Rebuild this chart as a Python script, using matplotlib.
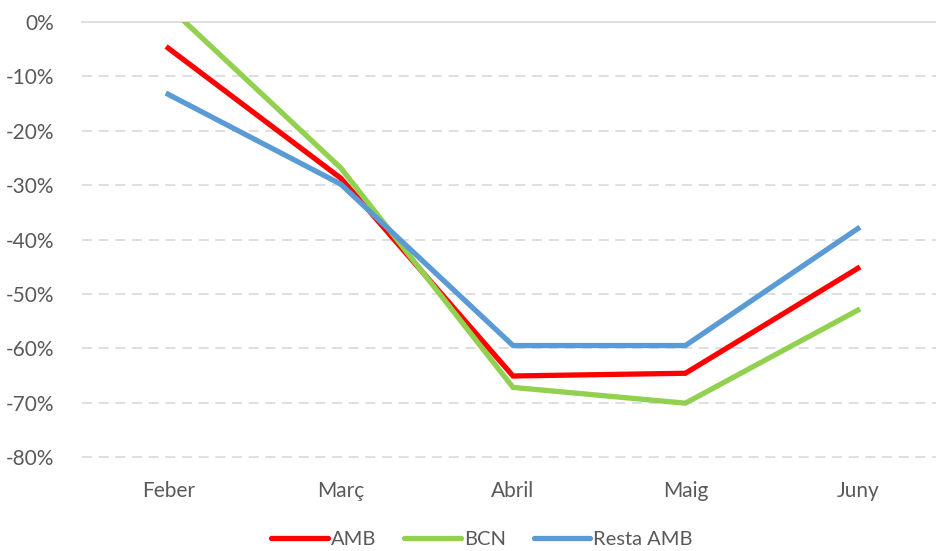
import matplotlib
matplotlib.use("Agg")
import matplotlib.pyplot as plt
from matplotlib.ticker import FuncFormatter

months = ["Feber", "Març", "Abril", "Maig", "Juny"]
amb = [-4.8, -28.7, -65.1, -64.6, -45.3]
bcn = [2.9, -26.8, -67.2, -70.1, -53.0]
resta = [-13.3, -29.8, -59.5, -59.5, -38.0]
yticks = [0, -10, -20, -30, -40, -50, -60, -70, -80]

plt.rcParams['font.family'] = ['Lato', 'DejaVu Sans']
gray = '#595959'

fig = plt.figure(figsize=(9.36, 5.51), dpi=100)
ax = fig.add_axes([82/936, 1-457/551, (944-82)/936, (457-22)/551])

x = list(range(len(months)))
lw = 3.8
ax.plot(x, amb, color='#FF0000', lw=lw, label='AMB', solid_joinstyle='miter', zorder=3)
ax.plot(x, bcn, color='#92D050', lw=lw, label='BCN', solid_joinstyle='miter', zorder=3)
ax.plot(x, resta, color='#5B9BD5', lw=lw, label='Resta AMB', solid_joinstyle='miter', zorder=3)

ax.set_xlim(-0.5, 4.5)
ax.set_ylim(-80, 0)
ax.set_yticks(yticks)
ax.yaxis.set_major_formatter(FuncFormatter(lambda v, p: f"{int(round(v))}%"))
ax.set_xticks(x)
ax.set_xticklabels(months)
for s in ax.spines.values():
    s.set_visible(False)
ax.tick_params(length=0, colors=gray, labelsize=15)
ax.tick_params(axis='y', pad=20)
ax.tick_params(axis='x', pad=17)
for t in yticks:
    if t == 0:
        ax.axhline(t, color='#D9D9D9', lw=1.2, zorder=1, clip_on=False)
    else:
        ax.axhline(t, color='#D9D9D9', lw=1.2, ls=(0, (6, 4)), zorder=1, clip_on=False)

leg = fig.legend(loc='lower center', bbox_to_anchor=(0.515, -0.028), ncol=3, frameon=False,
                 fontsize=14.5, handlelength=2.8, handletextpad=0.15, columnspacing=1.4)
for t in leg.get_texts():
    t.set_color(gray)
for l in leg.get_lines():
    l.set_solid_capstyle('round')

fig.savefig('out.png', dpi=100)
